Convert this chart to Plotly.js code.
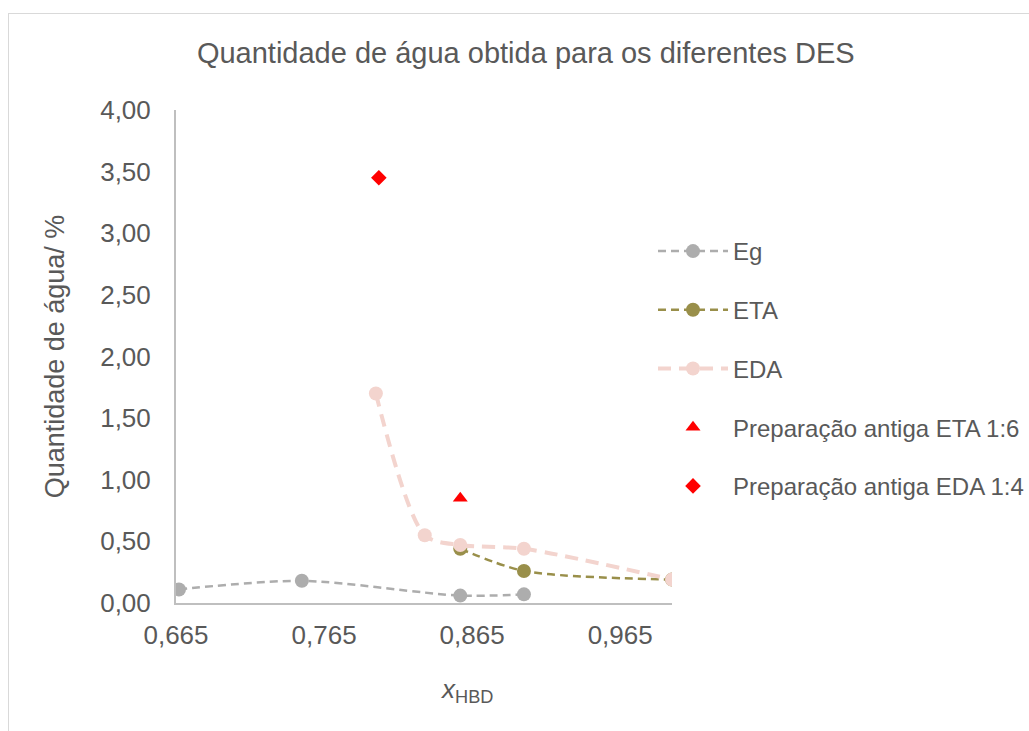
<!DOCTYPE html>
<html>
<head>
<meta charset="utf-8">
<script src="https://cdn.plot.ly/plotly-3.0.1.min.js"></script>
<style>
  html, body { margin: 0; padding: 0; background: #ffffff; }
  #wrap { position: relative; width: 1029px; height: 731px; overflow: hidden; }
  #frame { position: absolute; left: 8px; top: 13px; width: 1100px; height: 800px;
           border-left: 1px solid #d9d9d9; border-top: 1px solid #d9d9d9; }
  #chart { position: absolute; left: 0; top: 0; width: 1029px; height: 731px; }
</style>
</head>
<body>
<div id="wrap">
  <div id="frame"></div>
  <div id="chart"></div>
</div>
<script>
// Mole fraction of the hydrogen-bond donor (x_HBD) and water content (%)
const egX = [0.667, 0.75, 0.857, 0.9];
const egY = [0.11, 0.18, 0.06, 0.07];

const etaX = [0.857, 0.9, 1.0];
const etaY = [0.44, 0.26, 0.19];

const edaX = [0.8, 0.833, 0.857, 0.9, 1.0];
const edaY = [1.70, 0.55, 0.47, 0.44, 0.19];

const oldEtaX = [0.857];
const oldEtaY = [0.85];

const oldEdaX = [0.802];
const oldEdaY = [3.45];

const seriesNames = ['Eg', 'ETA', 'EDA', 'Preparação antiga ETA 1:6', 'Preparação antiga EDA 1:4'];
const xTicks = [0.665, 0.765, 0.865, 0.965];
const xTickText = ['0,665', '0,765', '0,865', '0,965'];
const yTicks = [0, 0.5, 1, 1.5, 2, 2.5, 3, 3.5, 4];
const yTickText = ['0,00', '0,50', '1,00', '1,50', '2,00', '2,50', '3,00', '3,50', '4,00'];

const FONT = 'Liberation Sans, Arial, sans-serif';
const TXT = '#595959';

const traces = [
  {
    x: egX, y: egY, name: seriesNames[0], legendgroup: 'a',
    mode: 'lines+markers', type: 'scatter',
    line: { color: '#adadad', width: 2.5, dash: '8px,5px', shape: 'spline', smoothing: 0.8 },
    marker: { color: '#adadad', size: 14, symbol: 'circle' }
  },
  {
    x: etaX, y: etaY, name: seriesNames[1], legendgroup: 'b',
    mode: 'lines+markers', type: 'scatter',
    line: { color: '#998f4a', width: 2.5, dash: '8px,5px', shape: 'spline', smoothing: 0.8 },
    marker: { color: '#998f4a', size: 14, symbol: 'circle' }
  },
  {
    x: edaX, y: edaY, name: seriesNames[2], legendgroup: 'c',
    mode: 'lines+markers', type: 'scatter',
    line: { color: '#f3d4ce', width: 4, dash: '13px,8px', shape: 'spline', smoothing: 0.8 },
    marker: { color: '#f3d4ce', size: 14, symbol: 'circle' }
  },
  {
    x: oldEtaX, y: oldEtaY, name: seriesNames[3], legendgroup: 'd',
    mode: 'markers', type: 'scatter',
    marker: { color: '#ff0000', size: 13, symbol: 'triangle-up' }
  },
  {
    x: oldEdaX, y: oldEdaY, name: seriesNames[4], legendgroup: 'e',
    mode: 'markers', type: 'scatter',
    marker: { color: '#ff0000', size: 12, symbol: 'diamond' }
  }
];

const L = 176, R = 672, T = 110, B = 603;
const W = R - L, H = B - T;

const layout = {
  width: 1029, height: 731,
  paper_bgcolor: 'rgba(0,0,0,0)', plot_bgcolor: 'rgba(0,0,0,0)',
  margin: { l: L, r: 1029 - R, t: T, b: 731 - B, autoexpand: false },
  font: { family: FONT, color: TXT, size: 24 },
  title: {
    text: 'Quantidade de água obtida para os diferentes DES',
    font: { family: FONT, size: 29, color: TXT },
    x: 0.511, xanchor: 'center', y: 0.928, yanchor: 'middle'
  },
  xaxis: {
    range: [0.665, 1.0], showgrid: false, zeroline: false,
    showline: true, linecolor: '#bfbfbf', linewidth: 2,
    ticks: '', tickvals: xTicks, ticktext: xTickText,
    tickfont: { family: FONT, size: 26, color: TXT }, ticklabelstandoff: 8
  },
  yaxis: {
    range: [0, 4], showgrid: false, zeroline: false,
    showline: true, linecolor: '#bfbfbf', linewidth: 2,
    ticks: '', tickvals: yTicks, ticktext: yTickText,
    tickfont: { family: FONT, size: 26, color: TXT }, ticklabelstandoff: 18,
    title: { text: 'Quantidade de água/ %', font: { family: FONT, size: 27, color: TXT }, standoff: 28 }
  },
  annotations: [
    {
      text: '<i>x</i><sub>HBD</sub>', xref: 'paper', yref: 'paper',
      x: (466 - L) / W, y: -(690 - B) / H, xanchor: 'center', yanchor: 'middle',
      showarrow: false, font: { family: FONT, size: 26, color: TXT }
    }
  ],
  showlegend: true,
  legend: {
    x: (653 - L) / W, xanchor: 'left',
    y: 1 - (229 - T) / H, yanchor: 'top',
    traceorder: 'grouped', tracegroupgap: 24.5,
    font: { family: FONT, size: 24, color: TXT },
    bgcolor: 'rgba(0,0,0,0)', itemwidth: 70
  }
};

Plotly.newPlot('chart', traces, layout, { displayModeBar: false, responsive: false });
</script>
</body>
</html>
